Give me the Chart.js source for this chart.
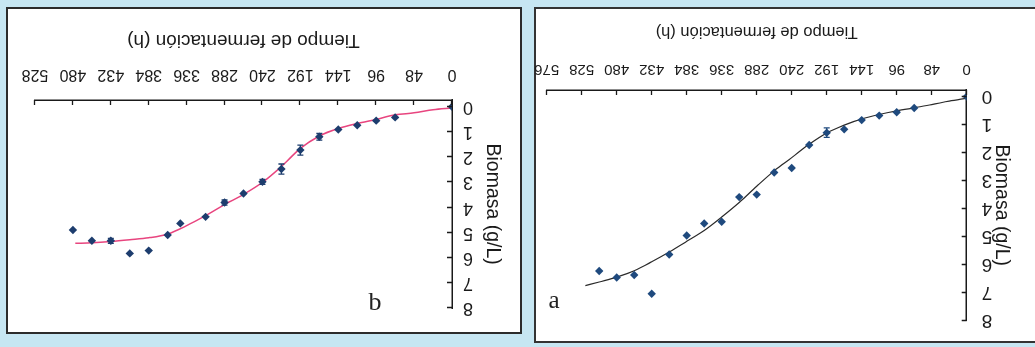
<!DOCTYPE html>
<html>
<head>
<meta charset="utf-8">
<script src="https://cdn.jsdelivr.net/npm/chart.js@4.4.1/dist/chart.umd.min.js"></script>
<style>
html,body{margin:0;padding:0;width:1035px;height:347px;overflow:hidden;background:#c6e6f2;}
#root{position:absolute;left:0;top:0;width:1035px;height:347px;transform:rotate(180deg);transform-origin:50% 50%;}
.panel{position:absolute;background:#fff;box-sizing:border-box;}
#pa{left:-6px;top:4px;width:507px;height:336px;border:2px solid #333;}
#pb{left:513px;top:13px;width:516px;height:327px;border:2px solid #2b2b2b;}
canvas{position:absolute;left:0;top:0;}
.lbl{position:absolute;font-family:'Liberation Serif','Times New Roman',serif;color:#222;line-height:1;transform:translate(-50%,-50%) rotate(180deg);}
</style>
</head>
<body>
<div id="root">
  <div class="panel" id="pa"></div>
  <div class="panel" id="pb"></div>
  <canvas id="ca" width="1035" height="347"></canvas>
  <canvas id="cb" width="1035" height="347"></canvas>
  <div class="lbl" id="la" style="left:481px;top:47px;font-size:25px;">a</div>
  <div class="lbl" id="lb" style="left:660px;top:45px;font-size:26px;">b</div>
</div>
<script>
// ---- Panel a ----
const hoursA   = [0,72,96,120,144,168,192,216,240,264,288,312,336,360,384,408,432,456,480,504];
const biomassA = [0,0.41,0.56,0.68,0.84,1.17,1.29,1.73,2.55,2.71,3.50,3.59,4.47,4.53,4.96,5.64,7.04,6.37,6.46,6.23];
const errA     = [0,0,0,0,0,0,0.17,0,0,0,0,0,0,0,0,0,0,0,0,0];
const fitHoursA = [0,24,48,72,96,120,144,168,192,216,240,264,288,312,336,360,384,408,432,456,480,504,523];
const fitA      = [0.06,0.16,0.29,0.40,0.51,0.64,0.80,1.02,1.30,1.70,2.18,2.65,3.20,3.78,4.30,4.78,5.17,5.55,5.90,6.22,6.45,6.62,6.75];
const xTicksA = [0,48,96,144,192,240,288,336,384,432,480,528,576];

// ---- Panel b ----
const hoursB   = [0,72,96,120,144,168,192,216,240,264,288,312,344,360,384,408,432,456,480];
const biomassB = [0,0.42,0.55,0.73,0.90,1.19,1.72,2.47,2.98,3.44,3.80,4.37,4.63,5.09,5.71,5.82,5.32,5.32,4.89];
const errB     = [0,0,0,0,0,0.13,0.2,0.2,0.1,0,0.1,0,0,0,0,0,0.1,0,0];
const fitHoursB = [0,24,48,72,96,120,144,168,192,216,240,264,288,312,336,360,384,408,432,456,477];
const fitB      = [0.04,0.12,0.24,0.32,0.50,0.66,0.86,1.16,1.65,2.37,3.00,3.48,3.88,4.32,4.72,5.05,5.20,5.28,5.35,5.40,5.42];
const xTicksB = [0,48,96,144,192,240,288,336,384,432,480,528];

const yTicks = [0,1,2,3,4,5,6,7,8];
const xTitle = 'Tiempo de fermentación (h)';
const yTitle = 'Biomasa (g/L)';

const SANS = "'Liberation Sans', Arial, sans-serif";
const NARROW = "'Liberation Sans Narrow', 'Liberation Sans', Arial, sans-serif";
const INK = '#1a1a1a';

const insideTicks = {
  id: 'insideTicks',
  afterDraw(chart) {
    const {ctx, chartArea: a, scales: {x, y}} = chart;
    ctx.save();
    ctx.strokeStyle = INK;
    ctx.lineWidth = 1.3;
    ctx.beginPath();
    x.ticks.forEach(t => {
      const px = Math.round(x.getPixelForValue(t.value)) + 0.5;
      ctx.moveTo(px, a.bottom); ctx.lineTo(px, a.bottom - 5);
    });
    y.ticks.forEach(t => {
      const py = Math.round(y.getPixelForValue(t.value)) + 0.5;
      ctx.moveTo(a.left, py); ctx.lineTo(a.left + 5, py);
    });
    ctx.stroke();
    ctx.restore();
  }
};

const errorBars = {
  id: 'errorBars',
  afterDatasetsDraw(chart) {
    const ds = chart.data.datasets[0];
    if (!ds.errors) return;
    const {ctx, scales: {x, y}} = chart;
    ctx.save();
    ctx.strokeStyle = ds.borderColor;
    ctx.lineWidth = 1.3;
    ds.data.forEach((p, i) => {
      const e = ds.errors[i];
      if (!e) return;
      const px = x.getPixelForValue(p.x);
      const y1 = y.getPixelForValue(p.y - e), y2 = y.getPixelForValue(p.y + e);
      ctx.beginPath();
      ctx.moveTo(px, y1); ctx.lineTo(px, y2);
      ctx.moveTo(px - 3, y1); ctx.lineTo(px + 3, y1);
      ctx.moveTo(px - 3, y2); ctx.lineTo(px + 3, y2);
      ctx.stroke();
    });
    ctx.restore();
  }
};

function build(id, p) {
  return new Chart(document.getElementById(id), {
    type: 'scatter',
    data: {
      datasets: [
        {
          data: p.hours.map((h, i) => ({x: h, y: p.vals[i]})),
          errors: p.err,
          pointStyle: 'rectRot',
          pointRadius: 4.2,
          backgroundColor: p.mc,
          borderColor: p.mc,
          borderWidth: 0,
          showLine: false
        },
        {
          data: p.fitH.map((h, i) => ({x: h, y: p.fit[i]})),
          showLine: true,
          pointRadius: 0,
          borderColor: p.lc,
          borderWidth: p.lw,
          cubicInterpolationMode: 'monotone',
          fill: false
        }
      ]
    },
    options: {
      responsive: false,
      animation: false,
      devicePixelRatio: 1,
      layout: {padding: p.pad},
      plugins: {legend: {display: false}, tooltip: {enabled: false}},
      scales: {
        x: {
          type: 'linear', min: 0, max: p.xmax,
          afterBuildTicks: s => { s.ticks = p.xt.map(v => ({value: v})); },
          afterFit: s => { s.height = p.xh; },
          grid: {display: false, drawTicks: false},
          border: {display: true, color: INK, width: 1.5},
          ticks: {padding: p.xtp, font: p.xtf, color: INK, maxRotation: 0, autoSkip: false},
          title: {display: true, text: xTitle, font: p.xtitf, color: INK, padding: {top: 0, bottom: p.xtpb}}
        },
        y: {
          type: 'linear', min: p.ymin, max: 8,
          afterBuildTicks: s => { s.ticks = yTicks.map(v => ({value: v})); },
          afterFit: s => { s.width = p.yw; },
          grid: {display: false, drawTicks: false},
          border: {display: true, color: INK, width: 1.5},
          ticks: {padding: p.ytp, font: p.ytf, color: INK},
          title: {display: true, text: yTitle, font: p.ytitf, color: INK, padding: {top: p.ytpt, bottom: 0}}
        }
      }
    },
    plugins: [insideTicks, errorBars]
  });
}

build('ca', {
  hours: hoursA, vals: biomassA, err: errA, fitH: fitHoursA, fit: fitA,
  mc: '#1f4a7e', lc: '#2a2a2a', lw: 1.2,
  xmax: 576, xt: xTicksA, ymin: -0.235,
  pad: {left: 18, right: 546.7, top: 22.3, bottom: 18},
  yw: 50.3, xh: 72,
  xtp: 12, xtf: {family: NARROW, size: 15},
  xtitf: {family: SANS, size: 16.5}, xtpb: 3.6,
  ytp: 15, ytf: {family: NARROW, size: 19},
  ytitf: {family: SANS, size: 19.5}, ytpt: 3.6
});

build('cb', {
  hours: hoursB, vals: biomassB, err: errB, fitH: fitHoursB, fit: fitB,
  mc: '#1d3d6e', lc: '#e8457f', lw: 1.5,
  xmax: 528, xt: xTicksB, ymin: -0.27,
  pad: {left: 528, right: 35, top: 38.7, bottom: 25},
  yw: 55, xh: 75,
  xtp: 16, xtf: {family: SANS, size: 16},
  xtitf: {family: SANS, size: 19}, xtpb: 3.6,
  ytp: 11, ytf: {family: NARROW, size: 18},
  ytitf: {family: SANS, size: 19.5}, ytpt: 3.1
});
</script>
</body>
</html>
